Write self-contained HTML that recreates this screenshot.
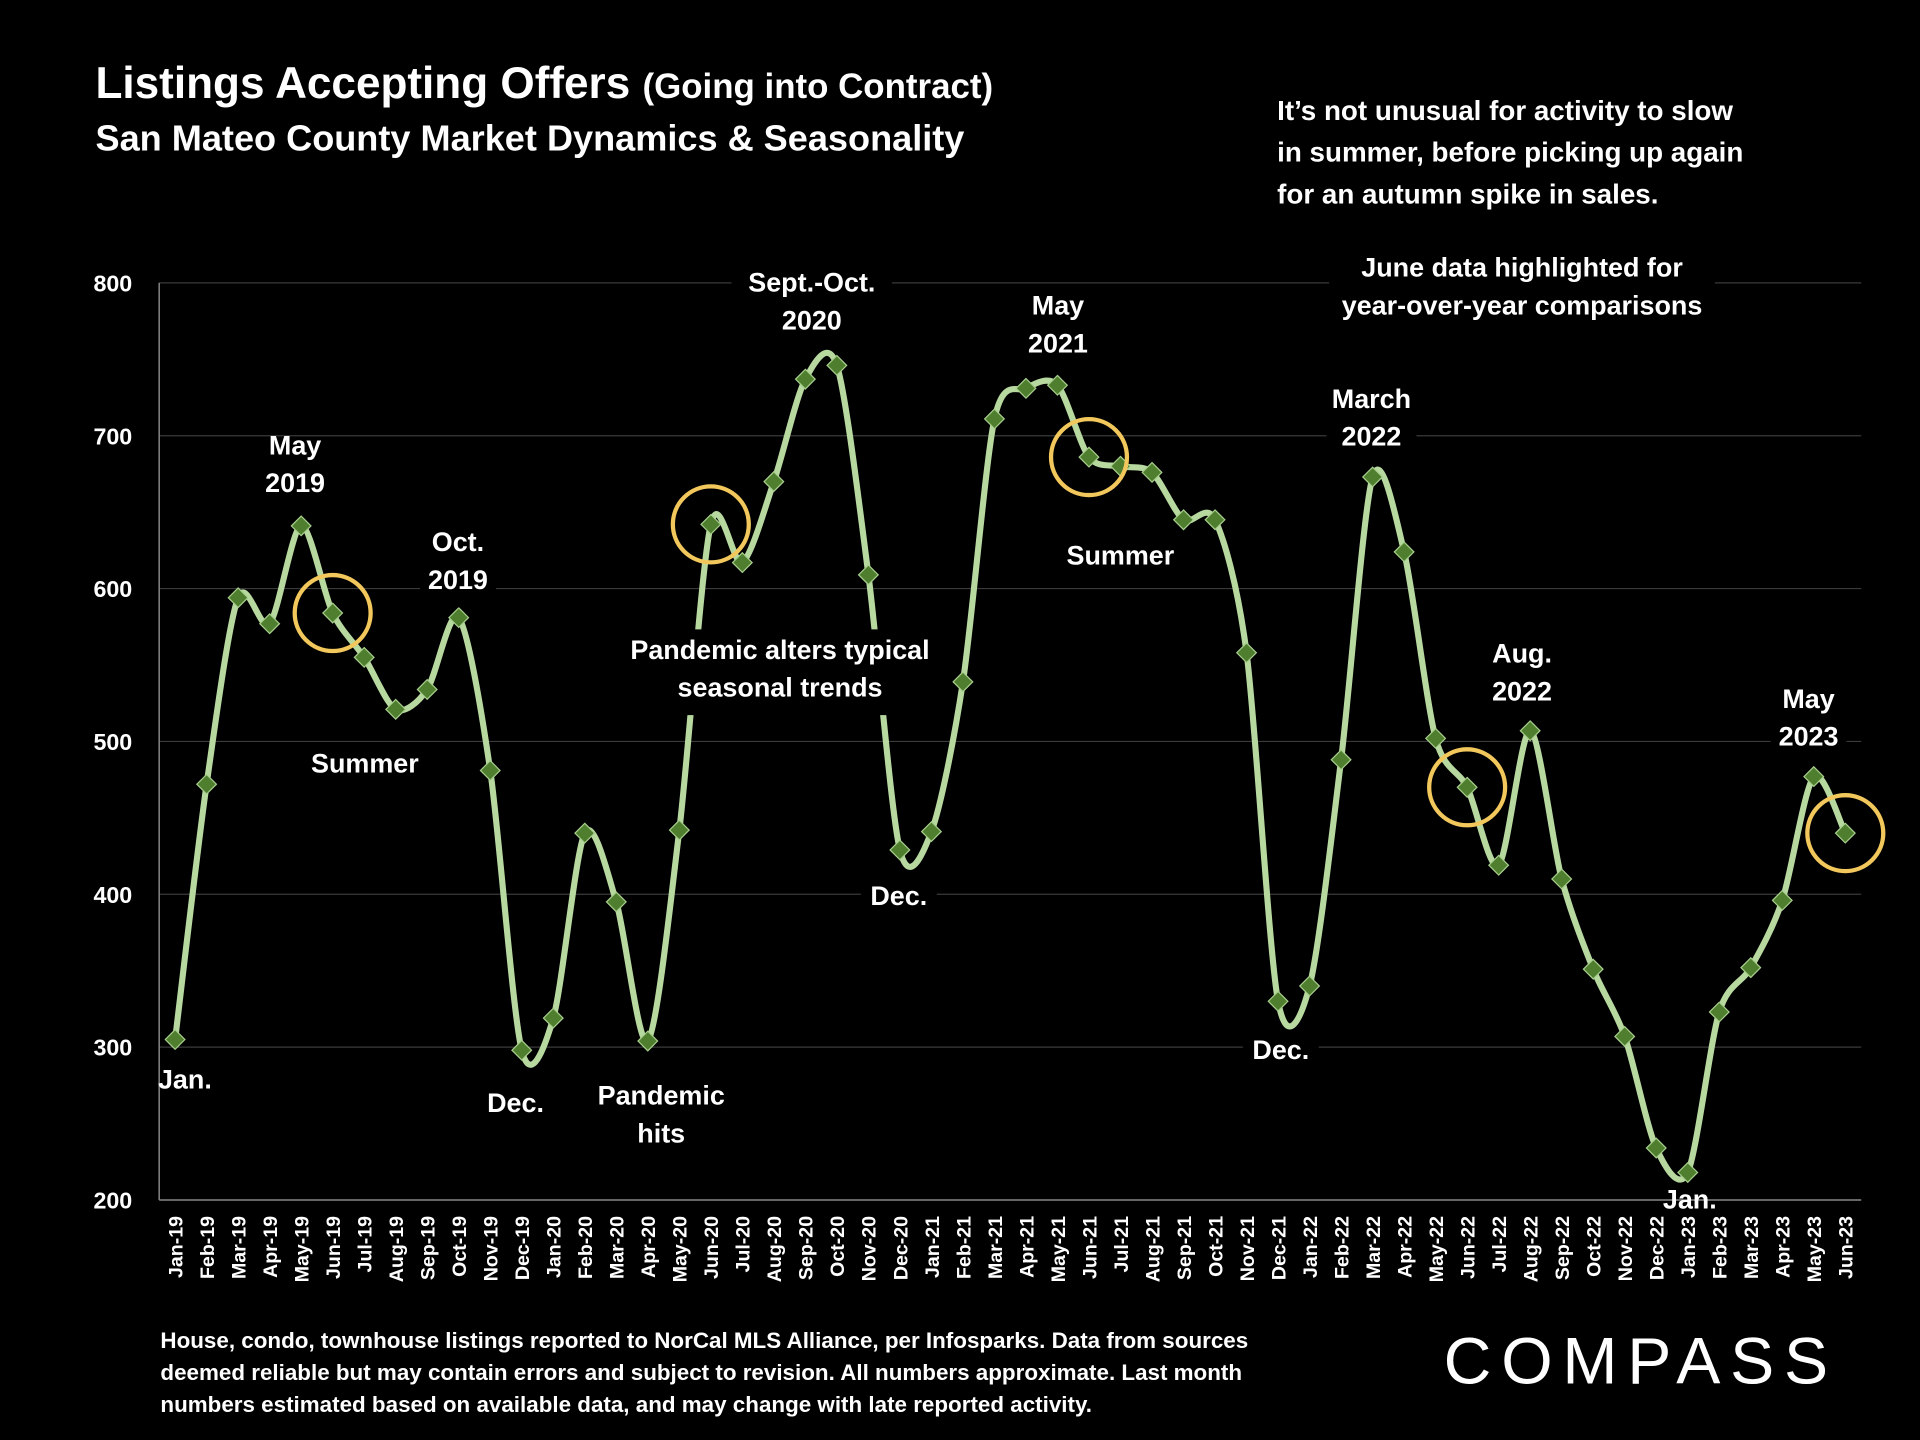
<!DOCTYPE html>
<html><head><meta charset="utf-8"><style>
html,body{margin:0;padding:0;background:#000;}
svg{display:block;}
text{font-family:"Liberation Sans",sans-serif;font-weight:bold;fill:#fff;}
</style></head><body>
<svg id="chart" width="1920" height="1440" viewBox="0 0 1568 1176" xmlns="http://www.w3.org/2000/svg">
<rect width="1568" height="1176" fill="#000"/>
<text x="78" y="80" font-size="36">Listings Accepting Offers <tspan font-size="28.5">(Going into Contract)</tspan></text>
<text x="78" y="123" font-size="29.5">San Mateo County Market Dynamics &amp; Seasonality</text>
<g font-size="22.7">
<text x="1043" y="98">It’s not unusual for activity to slow</text>
<text x="1043" y="132">in summer, before picking up again</text>
<text x="1043" y="166">for an autumn spike in sales.</text>
</g>
<g id="grid"></g>
<g id="axes"></g>
<g id="series"></g>
<g id="annot" font-size="22" text-anchor="middle"></g>
<g font-size="18.3">
<text x="131" y="1101">House, condo, townhouse listings reported to NorCal MLS Alliance, per Infosparks. Data from sources</text>
<text x="131" y="1127">deemed reliable but may contain errors and subject to revision. All numbers approximate. Last month</text>
<text x="131" y="1153">numbers estimated based on available data, and may change with late reported activity.</text>
</g>
<text x="1340" y="1130" font-size="54" text-anchor="middle" letter-spacing="8" style="font-weight:normal">COMPASS</text>
</svg>
<script>
const months = ["Jan-19","Feb-19","Mar-19","Apr-19","May-19","Jun-19","Jul-19","Aug-19","Sep-19","Oct-19","Nov-19","Dec-19","Jan-20","Feb-20","Mar-20","Apr-20","May-20","Jun-20","Jul-20","Aug-20","Sep-20","Oct-20","Nov-20","Dec-20","Jan-21","Feb-21","Mar-21","Apr-21","May-21","Jun-21","Jul-21","Aug-21","Sep-21","Oct-21","Nov-21","Dec-21","Jan-22","Feb-22","Mar-22","Apr-22","May-22","Jun-22","Jul-22","Aug-22","Sep-22","Oct-22","Nov-22","Dec-22","Jan-23","Feb-23","Mar-23","Apr-23","May-23","Jun-23"];
const listings = [305,472,594,577,641,584,555,521,534,581,481,298,319,440,395,304,442,642,617,670,737,746,609,429,441,539,711,731,733,686,680,676,645,645,558,330,340,488,673,624,502,470,419,507,410,351,307,234,218,323,352,396,477,440];
const yTicks = [200,300,400,500,600,700,800];
const highlighted = ["Jun-19","Jun-20","Jun-21","Jun-22","Jun-23"];

const NS="http://www.w3.org/2000/svg";
const X0=143,X1=1507,YT=231,YB=980,VMIN=200,VMAX=800,AXL=130,AXR=1520;
const xs=i=>X0+(X1-X0)*i/(months.length-1);
const ys=v=>YB-(v-VMIN)/(VMAX-VMIN)*(YB-YT);
function mk(tag,attrs,parent){const e=document.createElementNS(NS,tag);for(const k in attrs)e.setAttribute(k,attrs[k]);parent.appendChild(e);return e;}

const grid=document.getElementById('grid'),axes=document.getElementById('axes');
yTicks.forEach(t=>{
  if(t>VMIN){const l=mk('line',{x1:AXL,x2:AXR,y1:ys(t),y2:ys(t),stroke:'#3a3a3a','stroke-width':1},grid);
  
  }
  const tx=mk('text',{x:108,y:ys(t)+7,'font-size':19,'text-anchor':'end'},axes);tx.textContent=t;
  
  
});
const ya=mk('line',{x1:AXL,x2:AXL,y1:YT,y2:YB,stroke:'#888','stroke-width':1.2},axes);


const xa=mk('line',{x1:AXL,x2:AXR,y1:YB,y2:YB,stroke:'#888','stroke-width':1.2},axes);


months.forEach((m,i)=>{
  const t=mk('text',{x:0,y:0,'font-size':16,'text-anchor':'end',transform:`translate(${xs(i)+6},993) rotate(-90)`},axes);t.textContent=m;
  
  
});

const pts=listings.map((v,i)=>[xs(i),ys(v)]);
let d=`M${pts[0][0]},${pts[0][1]}`;
const T=7;
for(let i=0;i<pts.length-1;i++){
  const p0=pts[Math.max(0,i-1)],p1=pts[i],p2=pts[i+1],p3=pts[Math.min(pts.length-1,i+2)];
  const c1=[p1[0]+(p2[0]-p0[0])/T,p1[1]+(p2[1]-p0[1])/T],c2=[p2[0]-(p3[0]-p1[0])/T,p2[1]-(p3[1]-p1[1])/T];
  d+=` C${c1[0]},${c1[1]} ${c2[0]},${c2[1]} ${p2[0]},${p2[1]}`;
}
const series=document.getElementById('series');
const path=mk('path',{d,fill:'none',stroke:'#b7d9a0','stroke-width':5},series);


listings.forEach((v,i)=>{
  const x=xs(i),y=ys(v),r=8;
  const p=mk('polygon',{points:`${x},${y-r} ${x+r},${y} ${x},${y+r} ${x-r},${y}`,fill:'#4f7f2e',stroke:'#a8cf8e','stroke-width':1},series);
  
  
});
highlighted.forEach(m=>{
  const i=months.indexOf(m);
  const c=mk('circle',{cx:xs(i),cy:ys(listings[i]),r:31,fill:'none',stroke:'#f2c75c','stroke-width':3.5},series);
  
  
});

const annot=document.getElementById('annot');
const notes=[
 ["ann-jan",[ "Jan."],151,889,false],
 ["ann-may-2019",["May","2019"],241,371,false],
 ["ann-summer-2019",["Summer"],298,631,false],
 ["ann-oct-2019",["Oct.","2019"],374,450,true],
 ["ann-dec-2019",["Dec."],421,908,false],
 ["ann-pandemic-hits",["Pandemic","hits"],540,902,false],
 ["ann-pandemic-alters",["Pandemic alters typical","seasonal trends"],637,538,true],
 ["ann-sept-oct-2020",["Sept.-Oct.","2020"],663,238,true],
 ["ann-dec-2020",["Dec."],734,739,true],
 ["ann-may-2021",["May","2021"],864,257,true],
 ["ann-summer-2021",["Summer"],915,461,false],
 ["ann-dec-2021",["Dec."],1046,865,true],
 ["ann-march-2022",["March","2022"],1120,333,true],
 ["ann-aug-2022",["Aug.","2022"],1243,541,true],
 ["ann-jan-2023",["Jan."],1380,987,false],
 ["ann-may-2023",["May","2023"],1477,578,true],
 ["ann-june-note",["June data highlighted for","year-over-year comparisons"],1243,226,true]
];
notes.forEach(([name,lines,x,y,bg])=>{
  const g=mk('g',{},annot);
  
  
  if(bg){const w=Math.max(...lines.map(s=>s.length))*11.5+16;
    mk('rect',{x:x-w/2,y:y-24,width:w,height:lines.length*31+8,fill:'#000'},g);}
  lines.forEach((s,k)=>{const t=mk('text',{x,y:y+k*31},g);t.textContent=s;});
});
</script>
</body></html>
